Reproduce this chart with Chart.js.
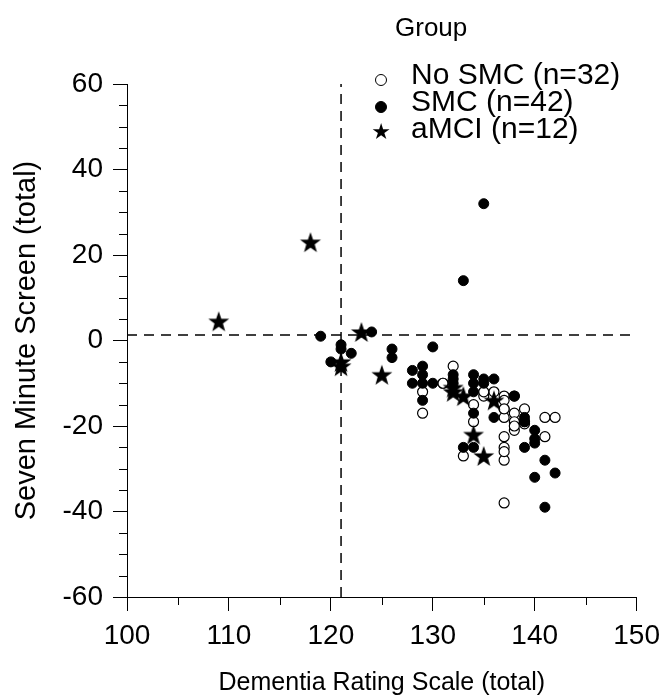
<!DOCTYPE html>
<html>
<head>
<meta charset="utf-8">
<script src="https://cdn.jsdelivr.net/npm/chart.js@4.4.1/dist/chart.umd.min.js"></script>
<style>
  body { margin: 0; background: #fff; }
  #wrap { position: relative; width: 668px; height: 699px; }
  #legend { position: absolute; left: 0; top: 0; font-family: "Liberation Sans", Arial, sans-serif; color: #000; }
  #legend .title { position: absolute; left: 395px; top: 12px; font-size: 26px; line-height: 30px; white-space: nowrap; }
  #legend .row { position: absolute; left: 368px; height: 28px; line-height: 28px; font-size: 30px; white-space: nowrap; }
  #legend .mk { display: inline-block; width: 26px; text-align: center; vertical-align: middle; }
  #legend .txt { position: absolute; left: 43px; top: 0; }
  .dot { display: inline-block; width: 12px; height: 12px; border-radius: 50%; border: 1px solid #000; box-sizing: border-box; }
  .dot.fill { background: #000; }
  .star { font-family: "DejaVu Sans", sans-serif; font-size: 22px; }
</style>
</head>
<body>
<div id="wrap">
  <canvas id="chart" width="668" height="699"></canvas>
  <div id="legend">
    <div class="title">Group</div>
    <div class="row" style="top:60px"><span class="mk"><span class="dot"></span></span><span class="txt">No SMC (n=32)</span></div>
    <div class="row" style="top:87px"><span class="mk"><span class="dot fill"></span></span><span class="txt">SMC (n=42)</span></div>
    <div class="row" style="top:114px"><span class="mk"><span class="star">★</span></span><span class="txt">aMCI (n=12)</span></div>
  </div>
</div>
<script>
// values
const noSmcX = [129,129,131,132,134,134,135,136,137,137,137,138,138,138,139,139,141,142,138,141,137,137,133,137,137,137,135,137,137,138,139,131];
const noSmcY = [-12,-17,-10,-6,-15,-19,-13,-12,-13,-16,-18,-13,-17,-19,-16,-19.5,-18,-18,-21,-22.5,-22.5,-25,-27,-28,-38,-14,-12,-26,-16,-20,-19,-10];

const smcX = [119,124,121,120,122,126,126,128,129,128,129,129,130,130,132,132,134,134,134,134,133,134,135,136,136,138,139,140,140,139,141,142,140,141,135,133,121,129,132,135,140,139];
const smcY = [1,2,-2,-5,-3,-2,-4,-7,-6,-10,-10,-14,-1.5,-10,-8,-10,-8,-10,-12,-17,-25,-25,-9,-9,-18,-13,-18,-21,-23,-25,-28,-31,-32,-39,32,14,-1,-8,-9,-10,-24,-19];

const amciX = [109,118,123,121,125,132,133,136,134,135,132,121];
const amciY = [4.5,23,2,-5,-8,-11,-13,-14,-22,-27,-12,-6];

// cut-off lines
const cutX = 121;
const cutY = 1.3;

const xTicks = [100,110,120,130,140,150];
const yTicks = [-60,-40,-20,0,20,40,60];

function pts(xs, ys){ return xs.map((x, i) => ({ x: x, y: ys[i] })); }

// filled five point star for the aMCI markers
function makeStar(r){
  const s = Math.ceil(r * 2) + 2;
  const c = document.createElement('canvas');
  c.width = s; c.height = s;
  const g = c.getContext('2d');
  g.fillStyle = '#000';
  g.beginPath();
  for (let i = 0; i < 10; i++) {
    const rad = i % 2 ? r * 0.4 : r;
    const a = -Math.PI / 2 + i * Math.PI / 5;
    const px = s / 2 + rad * Math.cos(a);
    const py = s / 2 + 1 + rad * Math.sin(a);
    if (i === 0) g.moveTo(px, py); else g.lineTo(px, py);
  }
  g.closePath();
  g.fill();
  return c;
}
const starImg = makeStar(11);

// minor tick marks every 5 units, shorter than the major ones
const minorTicks = {
  id: 'minorTicks',
  afterDraw(chart) {
    const ctx = chart.ctx;
    const xs = chart.scales.x, ys = chart.scales.y;
    const area = chart.chartArea;
    ctx.save();
    ctx.strokeStyle = '#000';
    ctx.lineWidth = 1;
    ctx.beginPath();
    for (let v = 105; v < 150; v += 10) {
      const px = Math.round(xs.getPixelForValue(v)) + 0.5;
      ctx.moveTo(px, area.bottom);
      ctx.lineTo(px, area.bottom + 8);
    }
    for (let v = -55; v < 60; v += 5) {
      if (v % 20 === 0) continue;
      const py = Math.round(ys.getPixelForValue(v)) + 0.5;
      ctx.moveTo(area.left, py);
      ctx.lineTo(area.left - 8, py);
    }
    ctx.stroke();
    ctx.restore();
  }
};

const FONT = '"Liberation Sans", Arial, sans-serif';
Chart.defaults.color = '#000';
Chart.defaults.font.family = FONT;

new Chart(document.getElementById('chart'), {
  type: 'scatter',
  data: {
    datasets: [
      {
        label: 'aMCI (n=12)',
        data: pts(amciX, amciY),
        pointStyle: starImg,
        pointRadius: 11,
        order: 0
      },
      {
        label: 'SMC (n=42)',
        data: pts(smcX, smcY),
        pointStyle: 'circle',
        pointRadius: 5,
        backgroundColor: '#000',
        borderColor: '#000',
        borderWidth: 1,
        order: 1
      },
      {
        label: 'No SMC (n=32)',
        data: pts(noSmcX, noSmcY),
        pointStyle: 'circle',
        pointRadius: 5,
        backgroundColor: '#fff',
        borderColor: '#000',
        borderWidth: 1.2,
        order: 2
      },
      {
        label: 'cutX',
        data: [{ x: cutX, y: -60 }, { x: cutX, y: 60 }],
        showLine: true,
        borderColor: '#000',
        borderWidth: 1.5,
        borderDash: [10, 7],
        pointRadius: 0,
        order: 3
      },
      {
        label: 'cutY',
        data: [{ x: 100, y: cutY }, { x: 150, y: cutY }],
        showLine: true,
        borderColor: '#000',
        borderWidth: 1.5,
        borderDash: [10, 7],
        pointRadius: 0,
        order: 3
      }
    ]
  },
  options: {
    responsive: false,
    animation: false,
    devicePixelRatio: 1,
    layout: { padding: { top: 84, right: 29, left: 0, bottom: 0 } },
    plugins: { legend: { display: false }, tooltip: { enabled: false } },
    scales: {
      x: {
        type: 'linear',
        min: 100, max: 150,
        afterBuildTicks: s => { s.ticks = xTicks.map(v => ({ value: v })); },
        afterFit: s => { s.height = 102; },
        grid: { drawOnChartArea: false, drawTicks: true, tickLength: 14, color: '#000', lineWidth: 1 },
        border: { display: true, color: '#000', width: 1 },
        ticks: { font: { size: 28 }, padding: 8, maxRotation: 0 },
        title: { display: true, text: 'Dementia Rating Scale (total)', font: { size: 25 }, padding: { top: 0, bottom: 1 } }
      },
      y: {
        type: 'linear',
        min: -60, max: 60,
        afterBuildTicks: s => { s.ticks = yTicks.map(v => ({ value: v })); },
        afterFit: s => { s.width = 127; },
        grid: { drawOnChartArea: false, drawTicks: true, tickLength: 14, color: '#000', lineWidth: 1 },
        border: { display: true, color: '#000', width: 1 },
        ticks: { font: { size: 28 }, padding: 10 },
        title: { display: true, text: 'Seven Minute Screen (total)', font: { size: 29 }, padding: { top: 10, bottom: 0 } }
      }
    }
  },
  plugins: [minorTicks]
});
</script>
</body>
</html>
